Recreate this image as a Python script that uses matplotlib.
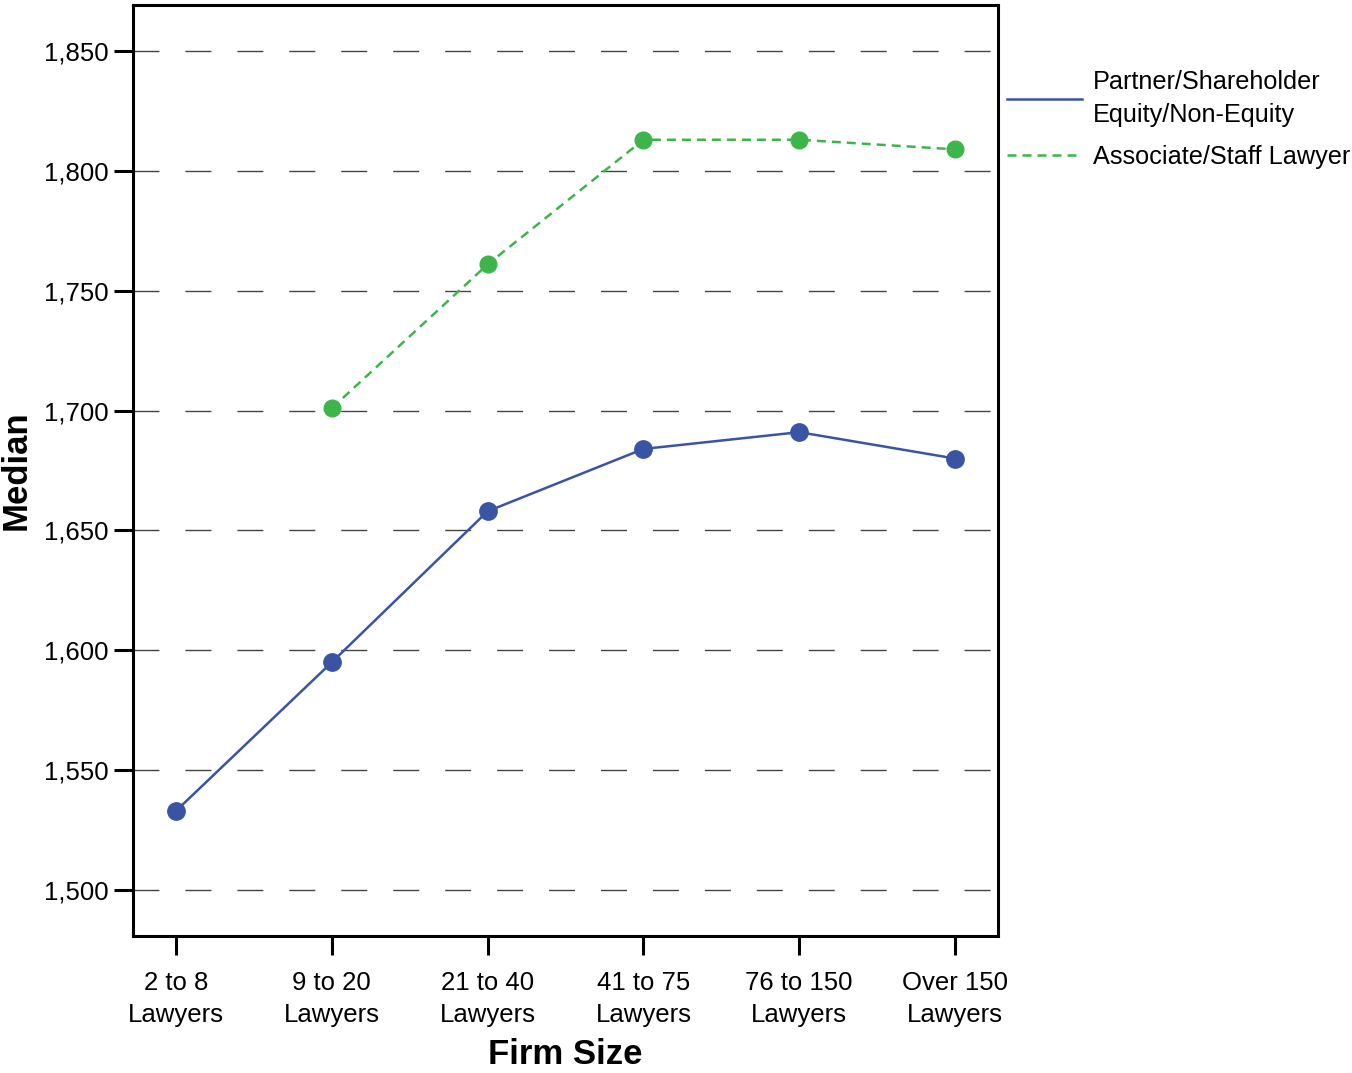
import matplotlib
matplotlib.use("Agg")
import matplotlib.pyplot as plt
from matplotlib.lines import Line2D
from matplotlib.ticker import FuncFormatter

categories = ["2 to 8\nLawyers", "9 to 20\nLawyers", "21 to 40\nLawyers",
              "41 to 75\nLawyers", "76 to 150\nLawyers", "Over 150\nLawyers"]
partner = [1533, 1595, 1658, 1684, 1691, 1680]
associate_cats = [1, 2, 3, 4, 5]
associate = [1701, 1761, 1813, 1813, 1809]
yticks = [1500, 1550, 1600, 1650, 1700, 1750, 1800, 1850]

plt.rcParams['font.family'] = ['Liberation Sans', 'DejaVu Sans']

blue = "#3a54a4"
green = "#3db54a"

fig = plt.figure(figsize=(13.52, 10.73), dpi=100)
ax = fig.add_axes([0.0984, 0.1277, 0.6398, 0.8676])

x = list(range(len(categories)))
ax.plot(x, partner, color=blue, lw=1.8, marker='o', markersize=12.5,
        markerfacecolor=blue, markeredgecolor=blue, zorder=3)
ax.plot(associate_cats, associate, color=green, lw=1.8, ls=(0, (3.6, 2.4)),
        marker='o', markersize=12, markerfacecolor=green,
        markeredgecolor=green, zorder=3)

ax.set_xlim(-0.276, 5.276)
ax.set_ylim(1480.8, 1869.2)
ax.set_xticks(x)
ax.set_xticklabels(categories, fontsize=18.5, linespacing=1.42)
ax.set_yticks(yticks)
ax.yaxis.set_major_formatter(FuncFormatter(lambda v, p: f"{int(v):,}"))
ax.tick_params(axis='y', labelsize=18.5, length=14, width=2.2, pad=3.5)
ax.tick_params(axis='x', labelsize=18.5, length=14, width=2.2, pad=11.5)

for y in yticks:
    ax.axhline(y, color="#444444", lw=1.0, ls=(0, (18.7, 18.7)), zorder=1)

for s in ax.spines.values():
    s.set_linewidth(2.2)

ax.set_ylabel("Median", fontsize=25, fontweight='bold', labelpad=8)
ax.set_xlabel("Firm Size", fontsize=25, fontweight='bold', labelpad=8)

handles = [Line2D([0], [0], color=blue, lw=1.8),
           Line2D([0], [0], color=green, lw=1.8, ls=(0, (3.6, 2.4)))]
labels = ["Partner/Shareholder\nEquity/Non-Equity", "Associate/Staff Lawyer"]
leg = fig.legend(handles, labels, loc='upper left', bbox_to_anchor=(0.7375, 0.944),
                 frameon=False, fontsize=18.2, handlelength=2.95, handletextpad=0.45,
                 labelspacing=0.72, borderaxespad=0)
for t in leg.get_texts():
    t.set_linespacing(1.45)

fig.savefig("out.png", dpi=100)
